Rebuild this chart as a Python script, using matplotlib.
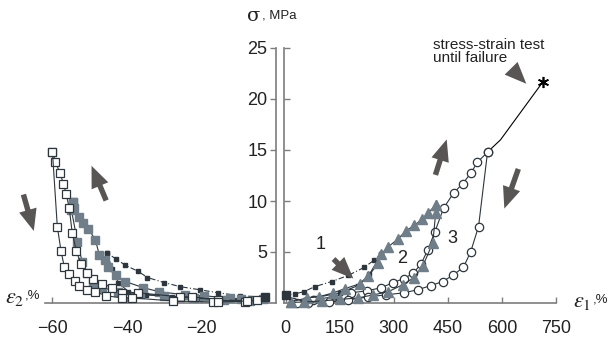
import numpy as np
import matplotlib
matplotlib.use('Agg')
import matplotlib.pyplot as plt

plt.rcParams['font.family'] = ['Liberation Sans', 'DejaVu Sans']
plt.rcParams['mathtext.fontset'] = 'stix'

# ---- data ----
# left half: transverse strain eps2 (%), stress (MPa)
e2_c1_load = [-3, -9.6, -15.5, -20.5, -25.7, -30, -34.5, -37, -40.4, -42.9, -45.3]
s2_c1_load = [0.6, 0.7, 1.0, 1.3, 1.6, 2.0, 2.5, 3.1, 3.7, 4.3, 4.9]
e2_c1_unld = [-45.3, -44.0, -42.3, -39.6, -35, -28, -20, -12, -5]
s2_c1_unld = [4.9, 3.3, 2.0, 1.1, 0.8, 0.6, 0.45, 0.35, 0.3]

e2_c2_load = [-3.5, -9.4, -12.3, -19.3, -24.4, -31.3, -35.6, -40.4, -42.9, -45.0,
              -46.0, -47.4, -48.5, -50.4, -51.7, -52.8, -54.1, -54.6]
s2_c2_load = [0.4, 0.4, 0.5, 0.7, 0.8, 1.1, 1.5, 2.1, 2.7, 3.5,
              4.2, 4.7, 6.2, 7.3, 7.8, 8.4, 9.3, 9.9]
e2_c2_unld = [-54.6, -54.9, -53.3, -52.0, -50.6, -49.0, -46.6, -42.3, -36.4, -30, -22, -14, -7]
s2_c2_unld = [9.9, 9.1, 6.0, 4.0, 2.9, 2.0, 1.5, 1.1, 0.9, 0.7, 0.5, 0.3, 0.2]

e2_c3_load = [-5.1, -8.3, -15.5, -22.5, -25.7, -37, -41.3, -43.9, -46.6, -49.0, -50.6,
              -52.3, -53.6, -54.7, -55.5, -56.3, -57.1, -57.9, -59.2, -60]
s2_c3_load = [0.3, 0.1, 0.3, 0.6, 0.6, 1.0, 1.0, 1.5, 1.9, 2.4, 2.9,
              3.8, 5.1, 6.9, 9.3, 10.7, 11.7, 12.7, 13.8, 14.8]
e2_c3_unld = [-60, -58.7, -57.7, -56.8, -55.5, -54, -52.8, -50.6, -48.5, -45.5,
              -41.3, -38.6, -27.6, -16.8, -15.5, -7.8]
s2_c3_unld = [14.8, 7.5, 5.1, 3.5, 2.8, 2.2, 1.7, 1.3, 1.1, 0.7,
              0.5, 0.5, 0.2, 0.1, 0.1, 0.2]

# right half: axial strain eps1 (%), stress (MPa)
e1_c1_load = [0, 25, 50, 80, 127, 173, 218, 245, 265]
s1_c1_load = [0.8, 0.9, 1.1, 1.6, 2.1, 2.7, 3.5, 4.2, 4.8]
e1_c1_unld = [265, 232, 200, 150, 80, 20]
s1_c1_unld = [4.8, 2.8, 1.7, 1.0, 0.5, 0.1]

e1_c2_load = [15, 58, 91, 132, 163, 207, 229, 256, 265, 284, 312, 334, 356, 378, 394, 416]
s1_c2_load = [0.1, 0.5, 0.6, 1.0, 1.4, 1.9, 2.6, 3.9, 4.8, 5.5, 6.3, 7.1, 7.6, 8.2, 8.8, 9.6]
e1_c2_unld = [416, 416, 408, 380, 356, 325, 284, 243, 201, 150, 100, 50, 15]
s1_c2_unld = [9.6, 8.8, 5.9, 3.6, 2.5, 1.8, 1.1, 0.8, 0.5, 0.35, 0.2, 0.1, 0.05]

e1_c3_load = [20, 75, 130, 182, 226, 265, 298, 328, 353, 375, 394, 414, 438, 466, 491, 513, 532, 560]
s1_c3_load = [0.1, 0.3, 0.6, 1.0, 1.2, 1.5, 2.0, 2.4, 2.9, 3.8, 5.2, 7.0, 9.3, 10.8, 11.7, 12.7, 13.8, 14.8]
e1_c3_unld = [560, 535, 513, 493, 463, 435, 402, 366, 328, 278, 229, 173, 119, 63, 30]
s1_c3_unld = [14.8, 7.5, 5.0, 3.5, 2.7, 2.1, 1.7, 1.3, 1.0, 0.8, 0.6, 0.3, 0.1, 0.0, 0.0]

e1_fail = [560, 596, 714]
s1_fail = [14.8, 16.0, 21.7]

cycle_labels = ['1', '2', '3']
cycle_lab_x = [97, 323, 463]
cycle_lab_y = [5.7, 4.4, 6.3]

left_ticks = [-60, -40, -20]
right_ticks = [0, 150, 300, 450, 600, 750]
y_ticks = [5, 10, 15, 20, 25]

# ---- styles ----
dark = '#2c363c'
gray = '#6f7e88'
spine_c = '#7d7d7d'
arrow_c = '#5a5555'
lw = 0.8

fig = plt.figure(figsize=(6.11, 3.42), dpi=100)
axL = fig.add_axes([45 / 611, 39 / 342, 231 / 611, 255 / 342])
axR = fig.add_axes([284 / 611, 39 / 342, 272 / 611, 255 / 342])

def small_sq(ax, x, y, ls):
    ax.plot(x, y, ls=ls, color=dark, lw=lw, marker='s', ms=3,
            mfc=dark, mec=dark, clip_on=False, zorder=3)

def gray_sq(ax, x, y):
    ax.plot(x, y, '-', color=dark, lw=lw, marker='s', ms=6,
            mfc=gray, mec=gray, clip_on=False, zorder=4)

def white_sq(ax, x, y):
    ax.plot(x, y, '-', color=dark, lw=lw, marker='s', ms=5.5,
            mfc='white', mec=dark, mew=0.9, clip_on=False, zorder=5)

# left half
small_sq(axL, e2_c1_load, s2_c1_load, (0, (5, 2, 1, 2)))
small_sq(axL, e2_c1_unld, s2_c1_unld, '-')
gray_sq(axL, e2_c2_load, s2_c2_load)
gray_sq(axL, e2_c2_unld, s2_c2_unld)
white_sq(axL, e2_c3_load, s2_c3_load)
white_sq(axL, e2_c3_unld, s2_c3_unld)
axL.plot(e2_c1_load[:1], s2_c1_load[:1], 's', ms=6, color=dark, clip_on=False, zorder=6)

# right half
small_sq(axR, e1_c1_load, s1_c1_load, (0, (5, 2, 1, 2)))
small_sq(axR, e1_c1_unld, s1_c1_unld, '-')
axR.plot(e1_c3_load, s1_c3_load, '-', color=dark, lw=lw, marker='o', ms=6,
         mfc='white', mec=dark, mew=0.9, clip_on=False, zorder=4)
axR.plot(e1_c3_unld, s1_c3_unld, '-', color=dark, lw=lw, marker='o', ms=6,
         mfc='white', mec=dark, mew=0.9, clip_on=False, zorder=4)
axR.plot(e1_c2_load, s1_c2_load, '-', color=dark, lw=lw, marker='^', ms=7.5,
         mfc=gray, mec=gray, clip_on=False, zorder=5)
axR.plot(e1_c2_unld, s1_c2_unld, '-', color=dark, lw=lw, marker='^', ms=7.5,
         mfc=gray, mec=gray, clip_on=False, zorder=5)
axR.plot(e1_c1_load[:1], s1_c1_load[:1], 's', ms=6, color=dark, clip_on=False, zorder=6)
axR.plot(e1_fail, s1_fail, '-', color='black', lw=lw, zorder=3)
axR.plot(e1_fail[-1:], s1_fail[-1:], marker=(6, 2, 0), ms=8, color='black', mew=1.2, zorder=6)

for t, x, y in zip(cycle_labels, cycle_lab_x, cycle_lab_y):
    axR.text(x, y, t, fontsize=13, ha='center', va='center', color='#222222')

axR.text(408, 26.0, 'stress-strain test\nuntil failure', fontsize=11, va='top',
         ha='left', linespacing=0.95, color='#222222')

# axes styling
axL.set_xlim(-62, 0)
axR.set_xlim(-5, 750)
for ax in (axL, axR):
    ax.set_ylim(0, 25)
    ax.set_facecolor('none')
    for side in ('top', 'left', 'right', 'bottom'):
        ax.spines[side].set_visible(False)
    ax.tick_params(direction='in', length=4, color=spine_c, width=1,
                   labelsize=13, labelcolor='#222222')

axL.spines['bottom'].set_visible(True)
axL.spines['right'].set_visible(True)
axL.spines['bottom'].set_color(spine_c)
axL.spines['right'].set_color(spine_c)
axL.spines['bottom'].set_linewidth(1.2)
axL.spines['right'].set_linewidth(1.2)
axL.set_xticks(left_ticks)
axL.yaxis.tick_right()
axL.set_yticks(y_ticks)
axL.set_yticklabels([])
axL.tick_params(axis='x', pad=12)

axR.spines['bottom'].set_visible(True)
axR.spines['left'].set_visible(True)
axR.spines['bottom'].set_color(spine_c)
axR.spines['left'].set_color(spine_c)
axR.spines['bottom'].set_linewidth(1.2)
axR.spines['left'].set_linewidth(1.2)
axR.spines['left'].set_bounds(0, 25)
axR.spines['bottom'].set_bounds(-5, 750)
axR.set_xticks(right_ticks)
axR.set_yticks(y_ticks)
axR.tick_params(axis='y', pad=12)
axR.tick_params(axis='x', pad=12)

# arrows
arw = dict(arrowstyle='simple,head_length=1.2,head_width=1.0,tail_width=0.3',
           color=arrow_c, mutation_scale=13, lw=0)
axL.annotate('', xy=(-64.8, 6.8), xytext=(-68.0, 10.9), arrowprops=arw, annotation_clip=False)
axL.annotate('', xy=(-49.8, 13.7), xytext=(-45.3, 9.8), arrowprops=arw, annotation_clip=False)
axR.annotate('', xy=(449, 16.3), xytext=(413, 12.3), arrowprops=arw, annotation_clip=False)
axR.annotate('', xy=(604, 9.0), xytext=(648, 13.4), arrowprops=arw, annotation_clip=False)
axR.annotate('', xy=(193, 2.2), xytext=(127, 4.5), arrowprops=arw, annotation_clip=False)
axR.annotate('', xy=(673, 21.3), xytext=(623, 23.1), arrowprops=arw, annotation_clip=False)

# axis labels
fig.text(247 / 611, 1 - 16 / 342, 'σ', fontsize=14, va='center', ha='left',
         family='DejaVu Serif', color='#222222')
fig.text(262 / 611, 1 - 16 / 342, ', MPa', fontsize=9.5, va='center', ha='left', color='#222222')
fig.text(5 / 611, 1 - 297 / 342, r'$\varepsilon_2$', fontsize=16, va='center', ha='left', color='#222222')
fig.text(25 / 611, 1 - 296 / 342, ',%', fontsize=9.5, va='center', ha='left', color='#222222')
fig.text(573 / 611, 1 - 302 / 342, r'$\varepsilon_1$', fontsize=16, va='center', ha='left', color='#222222')
fig.text(593 / 611, 1 - 300 / 342, ',%', fontsize=9.5, va='center', ha='left', color='#222222')

fig.savefig('out.png', dpi=100)
